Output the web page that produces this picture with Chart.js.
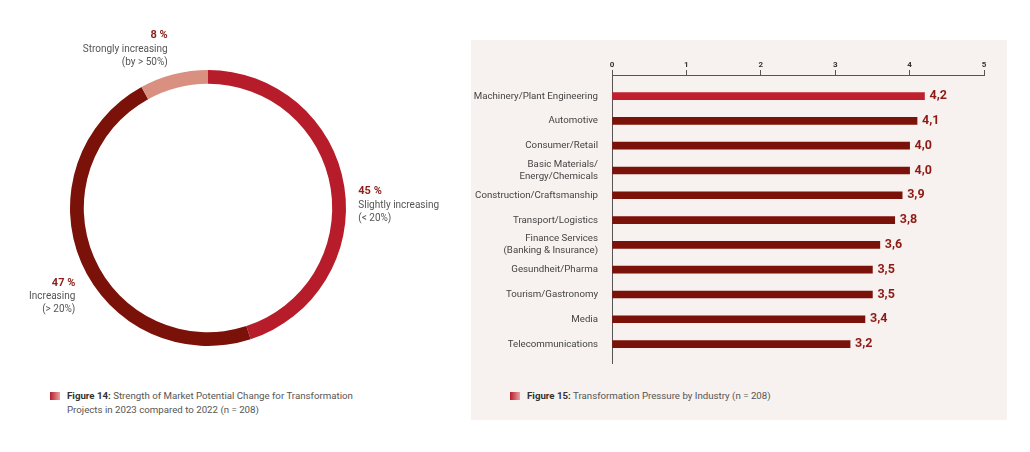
<!DOCTYPE html>
<html>
<head>
<meta charset="utf-8">
<script src="https://cdn.jsdelivr.net/npm/chart.js@4"></script>
<style>
  body { margin: 0; width: 1030px; height: 452px; background: #fff; position: relative; font-family: Roboto, sans-serif; overflow: hidden; }
  #donutBox { position: absolute; left: 0; top: 0; width: 470px; height: 360px; }
  #panel { position: absolute; left: 471px; top: 40px; width: 536px; height: 380px; background: #f7f1ef; }
  #barBox { position: absolute; left: 0; top: 0; width: 536px; height: 336px; }
  .caption { position: absolute; font-size: 9.7px; line-height: 14px; color: #555; }
  .caption b { color: #333; }
  .caption .icon { position: absolute; left: -17px; top: 3px; width: 10px; height: 8px; background: linear-gradient(to right, #b71c2b, #e9a3a3); }
</style>
</head>
<body>
<div id="donutBox"><canvas id="donut"></canvas></div>
<div class="caption" style="left:67px; top:389px;"><span class="icon"></span><b>Figure 14:</b> Strength of Market Potential Change for Transformation<br>Projects in 2023 compared to 2022 (n = 208)</div>
<div id="panel">
  <div id="barBox"><canvas id="bars"></canvas></div>
  <div class="caption" style="left:56px; top:349px;"><span class="icon"></span><b>Figure 15:</b> Transformation Pressure by Industry (n = 208)</div>
</div>
<script>
// Figure 14 data
const shareLabels = ["Slightly increasing", "Increasing", "Strongly increasing"];
const shareNotes = ["(< 20%)", "(> 20%)", "(by > 50%)"];
const shareValues = [45, 47, 8];
const shareColors = ["#b71c2b", "#7b1209", "#da9080"];

// Figure 15 data
const industries = [
  "Machinery/Plant Engineering",
  "Automotive",
  "Consumer/Retail",
  ["Basic Materials/", "Energy/Chemicals"],
  "Construction/Craftsmanship",
  "Transport/Logistics",
  ["Finance Services", "(Banking & Insurance)"],
  "Gesundheit/Pharma",
  "Tourism/Gastronomy",
  "Media",
  "Telecommunications"
];
const pressure = [4.2, 4.1, 4.0, 4.0, 3.9, 3.8, 3.6, 3.5, 3.5, 3.4, 3.2];
const pressureTicks = [0, 1, 2, 3, 4, 5];

const FONT = "Roboto, sans-serif";

// labels around the ring, placed next to each arc's outer middle point
const ringLabels = {
  id: "ringLabels",
  afterDatasetsDraw(chart, args, opts) {
    const ctx = chart.ctx;
    const meta = chart.getDatasetMeta(0);
    meta.data.forEach((arc, i) => {
      const p = arc.getProps(["x", "y", "startAngle", "endAngle", "outerRadius"], true);
      const mid = (p.startAngle + p.endAngle) / 2;
      const ax = p.x + Math.cos(mid) * p.outerRadius;
      const ay = p.y + Math.sin(mid) * p.outerRadius;
      const o = opts.offsets[i];
      const x = ax + o.dx;
      let y = ay + o.dy;
      ctx.save();
      ctx.textAlign = o.align;
      ctx.textBaseline = "middle";
      ctx.fillStyle = "#8b1f1a";
      ctx.font = "bold 11px " + FONT;
      ctx.fillText(shareValues[i] + " %", x, y);
      ctx.fillStyle = "#555";
      ctx.font = "10px " + FONT;
      ctx.fillText(shareLabels[i], x, y + 14);
      ctx.fillText(shareNotes[i], x, y + 27);
      ctx.restore();
    });
  }
};

new Chart(document.getElementById("donut"), {
  type: "doughnut",
  data: {
    labels: shareLabels,
    datasets: [{
      data: shareValues,
      backgroundColor: shareColors,
      borderWidth: 0
    }]
  },
  options: {
    responsive: true,
    maintainAspectRatio: false,
    animation: false,
    cutout: "90%",
    layout: { padding: { left: 70, right: 124, top: 70, bottom: 14 } },
    plugins: {
      legend: { display: false },
      tooltip: { enabled: false },
      ringLabels: {
        offsets: [
          { dx: 14, dy: 5, align: "left" },
          { dx: -6, dy: 20, align: "right" },
          { dx: -6, dy: -39, align: "right" }
        ]
      }
    }
  },
  plugins: [ringLabels]
});

// value labels at the end of each bar, with decimal comma
const barValues = {
  id: "barValues",
  afterDatasetsDraw(chart) {
    const ctx = chart.ctx;
    const meta = chart.getDatasetMeta(0);
    ctx.save();
    ctx.font = "bold 12.5px " + FONT;
    ctx.fillStyle = "#8e1a16";
    ctx.textBaseline = "middle";
    meta.data.forEach((bar, i) => {
      ctx.fillText(pressure[i].toFixed(1).replace(".", ","), bar.x + 5, bar.y);
    });
    ctx.restore();
  }
};

new Chart(document.getElementById("bars"), {
  type: "bar",
  data: {
    datasets: [{
      data: pressure.map((v, i) => ({ x: v, y: i })),
      backgroundColor: pressure.map((v, i) => i === 0 ? "#c01f2e" : "#7b1209"),
      barThickness: 7,
      borderWidth: 0
    }]
  },
  options: {
    indexAxis: "y",
    responsive: true,
    maintainAspectRatio: false,
    animation: false,
    layout: { padding: { left: 0, right: 23, top: 0, bottom: 7 } },
    plugins: { legend: { display: false }, tooltip: { enabled: false } },
    scales: {
      x: {
        position: "top",
        min: 0,
        max: 5,
        afterBuildTicks: s => { s.ticks = pressureTicks.map(v => ({ value: v })); },
        afterFit: s => { s.height = 35; },
        grid: { drawOnChartArea: false, drawTicks: true, tickLength: 5, color: "#555" },
        border: { display: true, color: "#555", width: 1 },
        ticks: { padding: 0, color: "#333", font: { family: FONT, size: 8, weight: "bold" } }
      },
      y: {
        type: "linear",
        reverse: true,
        offset: false,
        min: -0.85,
        max: 10.8,
        afterBuildTicks: s => { s.ticks = industries.map((_, i) => ({ value: i })); },
        afterFit: s => { s.width = 141; },
        grid: { display: false, offset: false },
        border: { display: true, color: "#555", width: 1 },
        ticks: {
          autoSkip: false,
          padding: 6,
          color: "#444",
          font: { family: FONT, size: 9.7, lineHeight: 1.25 },
          callback: v => industries[v]
        }
      }
    }
  },
  plugins: [barValues]
});
</script>
</body>
</html>
